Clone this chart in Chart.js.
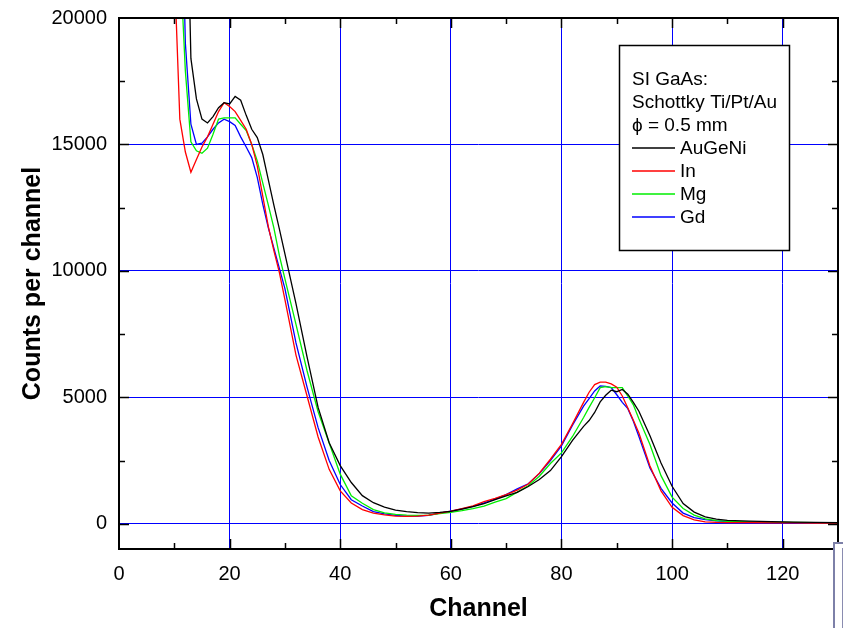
<!DOCTYPE html>
<html lang="en">
<head>
    <meta charset="UTF-8">
    <title>Counts per channel</title>
    <script src="https://cdn.jsdelivr.net/npm/chart.js@4.4.0/dist/chart.umd.min.js"></script>
    <style>
        body { margin: 0; background: #fff; }
        #wrap { position: relative; width: 843px; height: 628px; }
        #myChart { position: absolute; left: 0; top: 0; }
        /* leftover window edge in the bottom right corner */
        #edge {
            position: absolute; left: 833px; top: 542px; width: 8px; height: 86px;
            border-left: 2px solid #7d80a8; border-top: 2px solid #7d80a8; background: #fff;
        }
        #edge div { position: absolute; left: 7px; top: 4px; bottom: 0; border-left: 1px solid #8a8cb0; }
    </style>
</head>
<body>
<div id="wrap">
    <canvas id="myChart" width="843" height="628"></canvas>
    <div id="edge"><div></div></div>
</div>
<script>
    // channel numbers (x) shared by all four spectra
    const channels = [9,10,11,12,13,14,15,16,17,18,19,20,21,22,23,24,25,26,27,28,29,30,
        32,34,36,38,40,42,44,46,48,50,52,54,56,58,60,62,64,66,68,70,72,74,76,78,80,82,84,
        85,86,87,88,89,90,91,92,93,94,
        96,98,100,102,104,106,108,110,
        114,118,122,126,130];

    // counts per channel
    const auGeNi = [30000,30000,30000,28000,18400,16800,16000,15850,16100,16450,16650,16600,16900,16750,16150,15600,15270,14600,13600,12600,11650,10670,
        8700,6600,4600,3200,2300,1630,1110,830,660,540,480,440,420,450,490,580,680,790,950,1100,1240,1470,1750,2100,2650,3300,3850,
        4080,4400,4820,5080,5280,5220,5310,5120,4800,4450,
        3480,2400,1480,800,460,270,180,130,
        100,80,60,50,40];
    const inCounts = [30000,22000,16000,14700,13900,14400,14900,15300,15800,16300,16650,16500,16300,15950,15600,15000,14150,12950,11750,10800,9930,8860,
        6670,5050,3430,2150,1300,820,560,420,350,300,290,300,340,420,500,600,710,870,1000,1150,1330,1570,2000,2550,3140,3950,4800,
        5200,5500,5600,5600,5530,5400,5050,4580,4090,3590,
        2280,1300,650,320,150,75,55,45,
        40,35,30,25,20];
    const mgCounts = [30000,30000,22500,17900,15100,14750,14650,14850,15400,16000,16050,16050,16050,15800,15550,15000,14350,13470,12600,11700,10600,9680,
        7880,6050,4430,3190,1960,1100,810,560,430,370,340,330,340,400,450,520,600,700,850,990,1250,1500,1880,2380,2800,3450,4200,
        4600,4980,5380,5420,5380,5380,5380,5050,4700,4150,
        3130,1900,1050,600,340,190,120,90,
        70,60,50,40,30];
    const gdCounts = [30000,30000,28000,19000,15800,15000,15050,15300,15600,15850,16000,15900,15750,15300,14900,14480,13700,12630,11700,10900,10100,9300,
        7150,5400,3800,2500,1550,950,700,480,390,330,300,300,330,420,500,590,690,820,970,1150,1380,1580,1980,2500,3080,3900,4650,
        4950,5250,5450,5430,5380,5100,4800,4550,4050,3450,
        2200,1400,820,420,240,160,110,80,
        60,50,40,30,25];

    const seriesNames = ['AuGeNi', 'In', 'Mg', 'Gd'];
    const seriesColors = ['#000000', '#ff0000', '#00ee00', '#0000ff'];
    const seriesValues = [auGeNi, inCounts, mgCounts, gdCounts];

    // tick labels
    const xTicks = [0, 20, 40, 60, 80, 100, 120];
    const yTicks = [0, 5000, 10000, 15000, 20000];
    const legendHeader = ['SI GaAs:', 'Schottky Ti/Pt/Au', '\u03D5 = 0.5 mm'];

    const FONT = '"Liberation Sans", Arial, sans-serif';
    const GRID_BLUE = '#0000ff';

    function f_points(p_vals) {
        return channels.map(function (c, i) { return { x: c, y: p_vals[i] }; });
    }

    // black frame, inward ticks on all four sides, boxed legend
    const framePlugin = {
        id: 'frame',
        afterDraw(chart) {
            const ctx = chart.ctx;
            const a = chart.chartArea;
            const xs = chart.scales.x, ys = chart.scales.y;
            ctx.save();
            ctx.strokeStyle = '#000';
            ctx.lineWidth = 1.5;
            ctx.beginPath();
            for (let v = 10; v < 130; v += 10) {
                const px = Math.round(xs.getPixelForValue(v)) + 0.5;
                const len = v % 20 === 0 ? 10 : 6;
                ctx.moveTo(px, a.bottom); ctx.lineTo(px, a.bottom - len);
                ctx.moveTo(px, a.top); ctx.lineTo(px, a.top + len);
            }
            for (let v = 0; v < 20000; v += 2500) {
                const py = Math.round(ys.getPixelForValue(v)) + 0.5;
                const len = v % 5000 === 0 ? 10 : 6;
                ctx.moveTo(a.left, py); ctx.lineTo(a.left + len, py);
                ctx.moveTo(a.right, py); ctx.lineTo(a.right - len, py);
            }
            ctx.stroke();
            ctx.lineWidth = 2;
            ctx.strokeRect(a.left, a.top, a.right - a.left, a.bottom - a.top);

            // legend box
            const bx = 619, by = 45, bw = 170, bh = 205;
            ctx.fillStyle = '#fff';
            ctx.fillRect(bx, by, bw, bh);
            ctx.lineWidth = 1.5;
            ctx.strokeRect(bx + 0.5, by + 0.5, bw, bh);
            ctx.fillStyle = '#000';
            ctx.font = '19px ' + FONT;
            ctx.textBaseline = 'alphabetic';
            let base = 85;
            legendHeader.forEach(function (t) {
                ctx.fillText(t, 632, base);
                base += 23;
            });
            chart.data.datasets.forEach(function (ds) {
                ctx.strokeStyle = ds.borderColor;
                ctx.lineWidth = 1.3;
                ctx.beginPath();
                ctx.moveTo(632, base - 6);
                ctx.lineTo(675, base - 6);
                ctx.stroke();
                ctx.fillText(ds.label, 680, base);
                base += 23;
            });
            ctx.restore();
        }
    };

    const ctx = document.getElementById('myChart').getContext('2d');
    const myChart = new Chart(ctx, {
        type: 'line',
        data: {
            datasets: seriesNames.map(function (name, i) {
                return {
                    label: name,
                    data: f_points(seriesValues[i]),
                    borderColor: seriesColors[i],
                    borderWidth: 1.3,
                    pointRadius: 0,
                    tension: 0,
                    fill: false
                };
            })
        },
        options: {
            responsive: false,
            animation: false,
            devicePixelRatio: 1,
            layout: { padding: { top: 18, right: 5, left: 0, bottom: 0 } },
            plugins: { legend: { display: false }, tooltip: { enabled: false } },
            scales: {
                x: {
                    type: 'linear',
                    min: 0,
                    max: 130,
                    afterBuildTicks: function (s) { s.ticks = xTicks.map(function (v) { return { value: v }; }); },
                    afterFit: function (s) { s.height = 79; s.paddingLeft = 0; s.paddingRight = 0; },
                    border: { display: false },
                    grid: {
                        drawTicks: false,
                        lineWidth: 1,
                        color: function (c) { return c.tick && c.tick.value === 0 ? 'rgba(0,0,0,0)' : GRID_BLUE; }
                    },
                    ticks: {
                        color: '#000', font: { family: FONT, size: 20 }, padding: 13, maxRotation: 0, autoSkip: false,
                        callback: function (v) { return String(v); }
                    },
                    title: {
                        display: true, text: 'Channel', color: '#000',
                        font: { family: FONT, size: 25, weight: 'bold' },
                        padding: { top: 0, bottom: 4 }
                    }
                },
                y: {
                    type: 'linear',
                    min: -1000,
                    max: 20000,
                    afterBuildTicks: function (s) { s.ticks = yTicks.map(function (v) { return { value: v }; }); },
                    afterFit: function (s) { s.width = 119; s.paddingTop = 0; s.paddingBottom = 0; },
                    border: { display: false },
                    grid: {
                        drawTicks: false,
                        lineWidth: 1,
                        color: function (c) { return c.tick && c.tick.value === 20000 ? 'rgba(0,0,0,0)' : GRID_BLUE; }
                    },
                    ticks: {
                        color: '#000', font: { family: FONT, size: 20 }, padding: 12,
                        callback: function (v) { return String(v); }
                    },
                    title: {
                        display: true, text: 'Counts per channel', color: '#000',
                        font: { family: FONT, size: 25, weight: 'bold' },
                        padding: { top: 18, bottom: 0 }
                    }
                }
            }
        },
        plugins: [framePlugin]
    });
</script>
</body>
</html>
